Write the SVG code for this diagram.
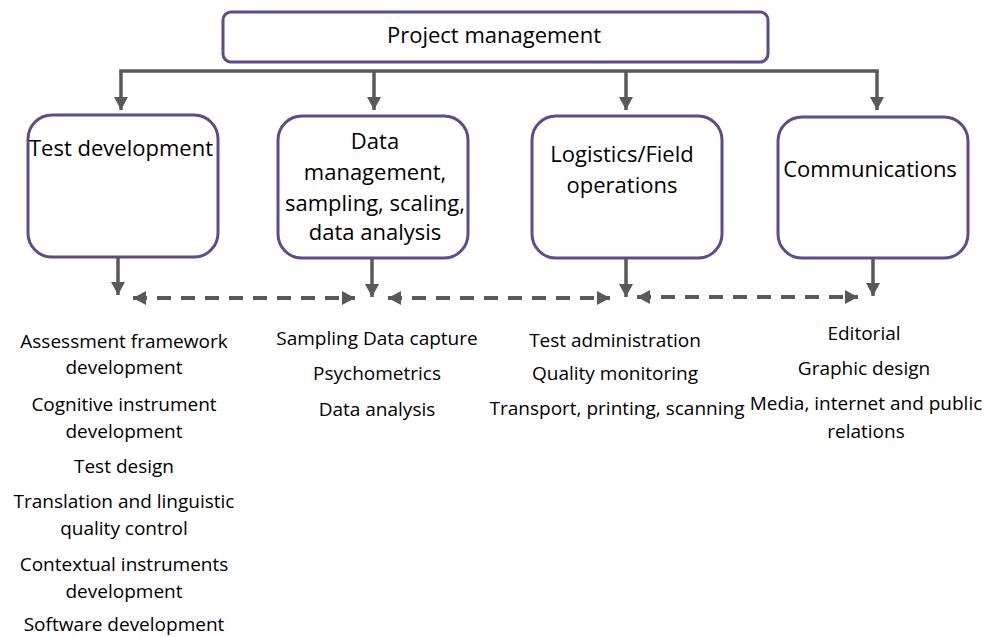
<svg xmlns="http://www.w3.org/2000/svg" width="990" height="637" viewBox="0 0 990 637">
  <style>
    .box { fill: #ffffff; stroke: #5f4b8b; stroke-width: 3; }
    .wire { fill: none; stroke: #595959; stroke-width: 3.5; }
    .dash { fill: none; stroke: #595959; stroke-width: 4; stroke-dasharray: 14 10; }
    .head { font-family: "Open Sans", "Liberation Sans", sans-serif; font-size: 22px; fill: #000; text-anchor: middle; }
    .item { font-family: "Open Sans", "Liberation Sans", sans-serif; font-size: 19px; fill: #000; text-anchor: middle; }
  </style>
  <defs>
    <marker id="arrow" markerUnits="userSpaceOnUse" markerWidth="16" markerHeight="16" refX="13" refY="7" orient="auto">
      <path d="M0,0 L13,7 L0,14 Z" fill="#595959"/>
    </marker>
    <marker id="arrowStart" markerUnits="userSpaceOnUse" markerWidth="16" markerHeight="16" refX="0" refY="7" orient="auto">
      <path d="M13,0 L0,7 L13,14 Z" fill="#595959"/>
    </marker>
  </defs>

  <g id="connectors">
    <!-- distribution bar from project management -->
    <line class="wire" x1="119.25" y1="71" x2="878.75" y2="71"/>
    <line class="wire" x1="121" y1="71" x2="121" y2="110" marker-end="url(#arrow)"/>
    <line class="wire" x1="374" y1="71" x2="374" y2="110" marker-end="url(#arrow)"/>
    <line class="wire" x1="626" y1="71" x2="626" y2="110" marker-end="url(#arrow)"/>
    <line class="wire" x1="877" y1="71" x2="877" y2="110" marker-end="url(#arrow)"/>
    <!-- drops below each work package -->
    <line class="wire" x1="118" y1="257" x2="118" y2="295" marker-end="url(#arrow)"/>
    <line class="wire" x1="372" y1="258" x2="372" y2="297" marker-end="url(#arrow)"/>
    <line class="wire" x1="626" y1="258" x2="626" y2="297" marker-end="url(#arrow)"/>
    <line class="wire" x1="873" y1="258" x2="873" y2="296" marker-end="url(#arrow)"/>
    <!-- dashed two-way links -->
    <line class="dash" x1="133" y1="298" x2="355" y2="298" marker-start="url(#arrowStart)" marker-end="url(#arrow)"/>
    <line class="dash" x1="388" y1="298" x2="610" y2="298" marker-start="url(#arrowStart)" marker-end="url(#arrow)"/>
    <line class="dash" x1="637" y1="297" x2="858" y2="297" marker-start="url(#arrowStart)" marker-end="url(#arrow)"/>
  </g>

  <g id="project-management">
    <rect class="box" x="223" y="12" width="545" height="50" rx="8"/>
    <text class="head" x="494" y="43">Project management</text>
  </g>

  <g id="test-development">
    <rect class="box" x="28" y="115" width="190" height="142" rx="24"/>
    <text class="head" x="121" y="156">Test development</text>
  </g>

  <g id="data-management">
    <rect class="box" x="278" y="116" width="190" height="142" rx="24"/>
    <text class="head" x="375" y="149">Data</text>
    <text class="head" x="375" y="180">management,</text>
    <text class="head" x="375" y="211">sampling, scaling,</text>
    <text class="head" x="375" y="240">data analysis</text>
  </g>

  <g id="logistics">
    <rect class="box" x="532" y="116" width="190" height="142" rx="24"/>
    <text class="head" x="622" y="162">Logistics/Field</text>
    <text class="head" x="622" y="193">operations</text>
  </g>

  <g id="communications">
    <rect class="box" x="778" y="117" width="190" height="141" rx="24"/>
    <text class="head" x="870" y="177">Communications</text>
  </g>

  <g id="test-development-tasks">
    <text class="item" x="124" y="348">Assessment framework</text>
    <text class="item" x="124" y="374">development</text>
    <text class="item" x="124" y="411">Cognitive instrument</text>
    <text class="item" x="124" y="438">development</text>
    <text class="item" x="124" y="473">Test design</text>
    <text class="item" x="124" y="508">Translation and linguistic</text>
    <text class="item" x="124" y="535">quality control</text>
    <text class="item" x="124" y="571">Contextual instruments</text>
    <text class="item" x="124" y="598">development</text>
    <text class="item" x="124" y="631">Software development</text>
  </g>

  <g id="data-management-tasks">
    <text class="item" x="377" y="345">Sampling Data capture</text>
    <text class="item" x="377" y="380">Psychometrics</text>
    <text class="item" x="377" y="416">Data analysis</text>
  </g>

  <g id="logistics-tasks">
    <text class="item" x="615" y="347">Test administration</text>
    <text class="item" x="615" y="380">Quality monitoring</text>
    <text class="item" x="617" y="415">Transport, printing, scanning</text>
  </g>

  <g id="communications-tasks">
    <text class="item" x="864" y="340">Editorial</text>
    <text class="item" x="864" y="375">Graphic design</text>
    <text class="item" x="866" y="410">Media, internet and public</text>
    <text class="item" x="866" y="438">relations</text>
  </g>
</svg>
